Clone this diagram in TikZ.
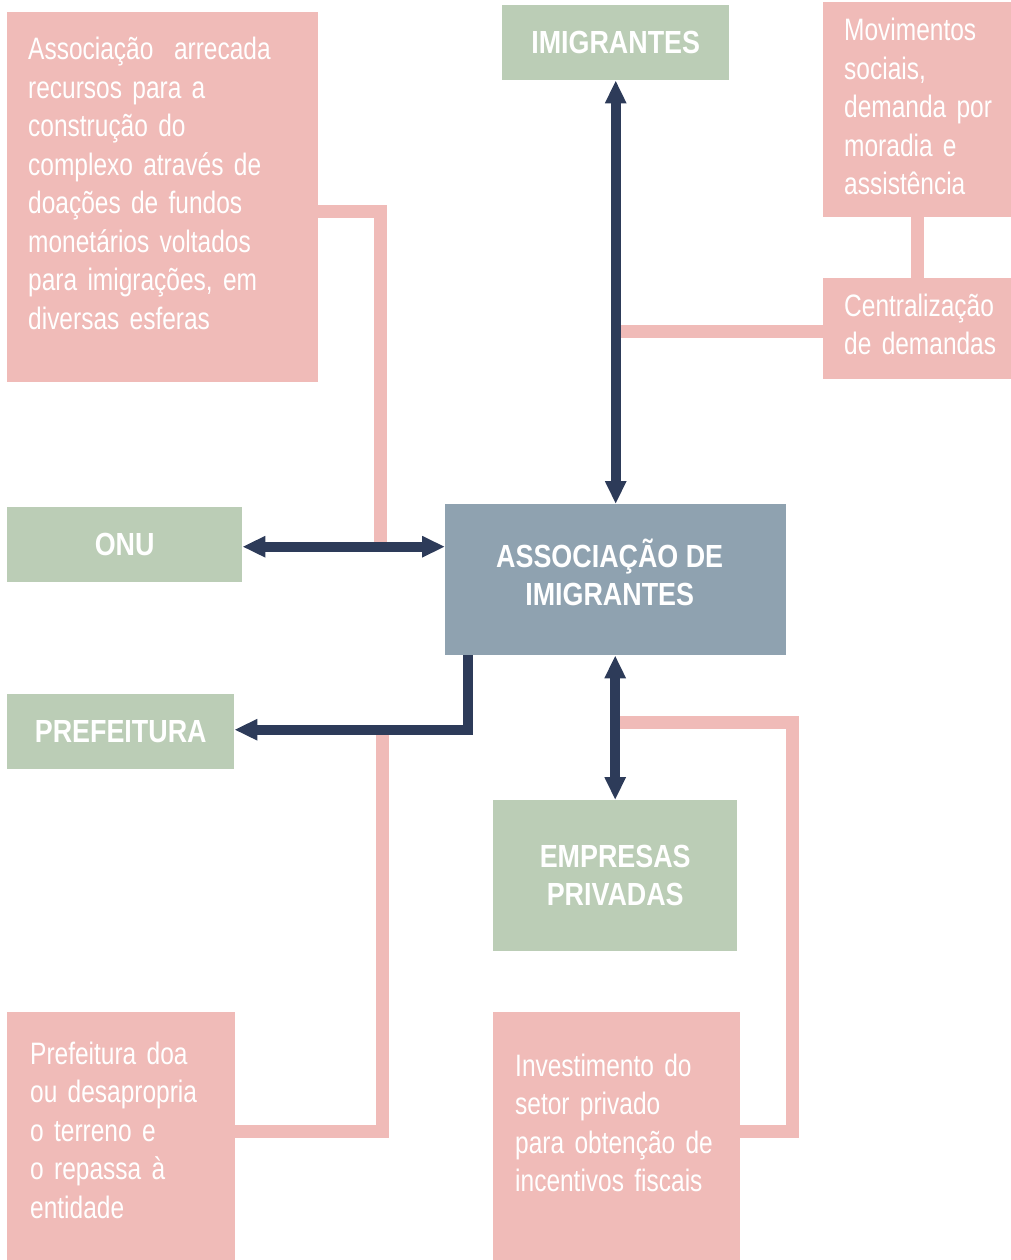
\documentclass[tikz,border=0pt]{standalone}
\usepackage{fontspec}
\setmainfont{Liberation Sans}[FakeStretch=0.79,
  BoldFeatures={FakeStretch=0.84}]
\usetikzlibrary{arrows.meta}

\definecolor{rosa}{HTML}{F0BBB8}
\definecolor{verde}{HTML}{BBCDB6}
\definecolor{cinza}{HTML}{8FA2B0}
\definecolor{marinho}{HTML}{2D3B59}

\newcommand{\corpo}{\fontsize{31}{38.5}\selectfont\spaceskip=6.3pt}
\newcommand{\titulo}{\fontsize{32}{38}\selectfont\bfseries}

\tikzset{
  caixa/.style={rectangle, inner sep=0pt, anchor=north west, text=white},
  rosabox/.style={caixa, fill=rosa},
  verdebox/.style={caixa, fill=verde, font=\titulo, align=center},
  texto/.style={anchor=base west, inner sep=0pt, text=white, align=left,
    font=\corpo, text width=#1},
  fluxo/.style={draw=marinho, line width=10pt, line join=miter},
  ligacao/.style={draw=rosa, line width=13pt, line join=miter},
  >={Triangle[length=23pt,width=20pt]}
}

\begin{document}
\begin{tikzpicture}[x=1pt, y=-1pt]
  \useasboundingbox (0,0) rectangle (1011,1260);

  % Caixas principais
  \node[verdebox, minimum width=227pt, minimum height=75pt] (imig) at (502,5) {IMIGRANTES};
  \node[verdebox, minimum width=235pt, minimum height=75pt] (onu) at (7,507) {ONU};
  \node[caixa, fill=cinza, font=\titulo, align=center, minimum width=341pt, minimum height=151pt]
    (assoc) at (445,504)
    {ASSOCIAÇÃO DE\hspace*{12pt}\mbox{}\\IMIGRANTES\hspace*{12pt}\mbox{}\\[-24pt]\mbox{}};
  \node[verdebox, minimum width=227pt, minimum height=75pt] (pref) at (7,694) {PREFEITURA};
  \node[verdebox, minimum width=244pt, minimum height=151pt] (emp) at (493,800) {EMPRESAS\\PRIVADAS};

  % Caixas de texto
  \node[rosabox, minimum width=311pt, minimum height=370pt] (recursos) at (7,12) {};
  \node[texto=290pt] (recursos-t) at (28,60)
    {Associação~ arrecada\\recursos para a\\construção do\\complexo através de\\doações de fundos\\monetários voltados\\para imigrações, em\\diversas esferas};

  \node[rosabox, minimum width=188pt, minimum height=215pt] (mov) at (823,2) {};
  \node[texto=167pt] (mov-t) at (844,41)
    {Movimentos\\sociais,\\demanda por\\moradia e\\assistência};

  \node[rosabox, minimum width=188pt, minimum height=101pt] (central) at (823,278) {};
  \node[texto=167pt] (central-t) at (844,316)
    {Centralização\\de demandas};

  \node[rosabox, minimum width=228pt, minimum height=248pt] (doacao) at (7,1012) {};
  \node[texto=205pt] (doacao-t) at (30,1064)
    {Prefeitura doa\\ou desapropria\\o terreno e\\o repassa à\\entidade};

  \node[rosabox, minimum width=247pt, minimum height=248pt] (invest) at (493,1012) {};
  \node[texto=225pt] (invest-t) at (515,1076)
    {Investimento do\\setor privado\\para obtenção de\\incentivos fiscais};

  % Ligacoes rosa
  \draw[ligacao] ([shift={(0,14)}]recursos.east) -| ([shift={(138,0)}]onu.east);
  \draw[ligacao] (mov.south) -- (central.north);
  \draw[ligacao] ([shift={(0,3)}]central.west) -- ([shift={(0,3)}]central.west -| imig.south);
  \draw[ligacao] ([shift={(148,0)}]pref.east) |- ([shift={(0,-5)}]doacao.east);
  \draw[ligacao] ([shift={(0,67)}]emp.north |- assoc.south) -- ++(177,0)
    |- ([shift={(0,-5)}]invest.east);

  % Fluxos
  \draw[fluxo, <->] (imig.south) -- (imig.south |- assoc.north);
  \draw[fluxo, <->] ([shift={(0,2)}]onu.east) -- ([shift={(0,2)}]onu.east -| assoc.west);
  \draw[fluxo, ->] ([shift={(23,0)}]assoc.south west) |- ([shift={(0,-2)}]pref.east);
  \draw[fluxo, <->] (emp.north |- assoc.south) -- (emp.north);
\end{tikzpicture}
\end{document}
